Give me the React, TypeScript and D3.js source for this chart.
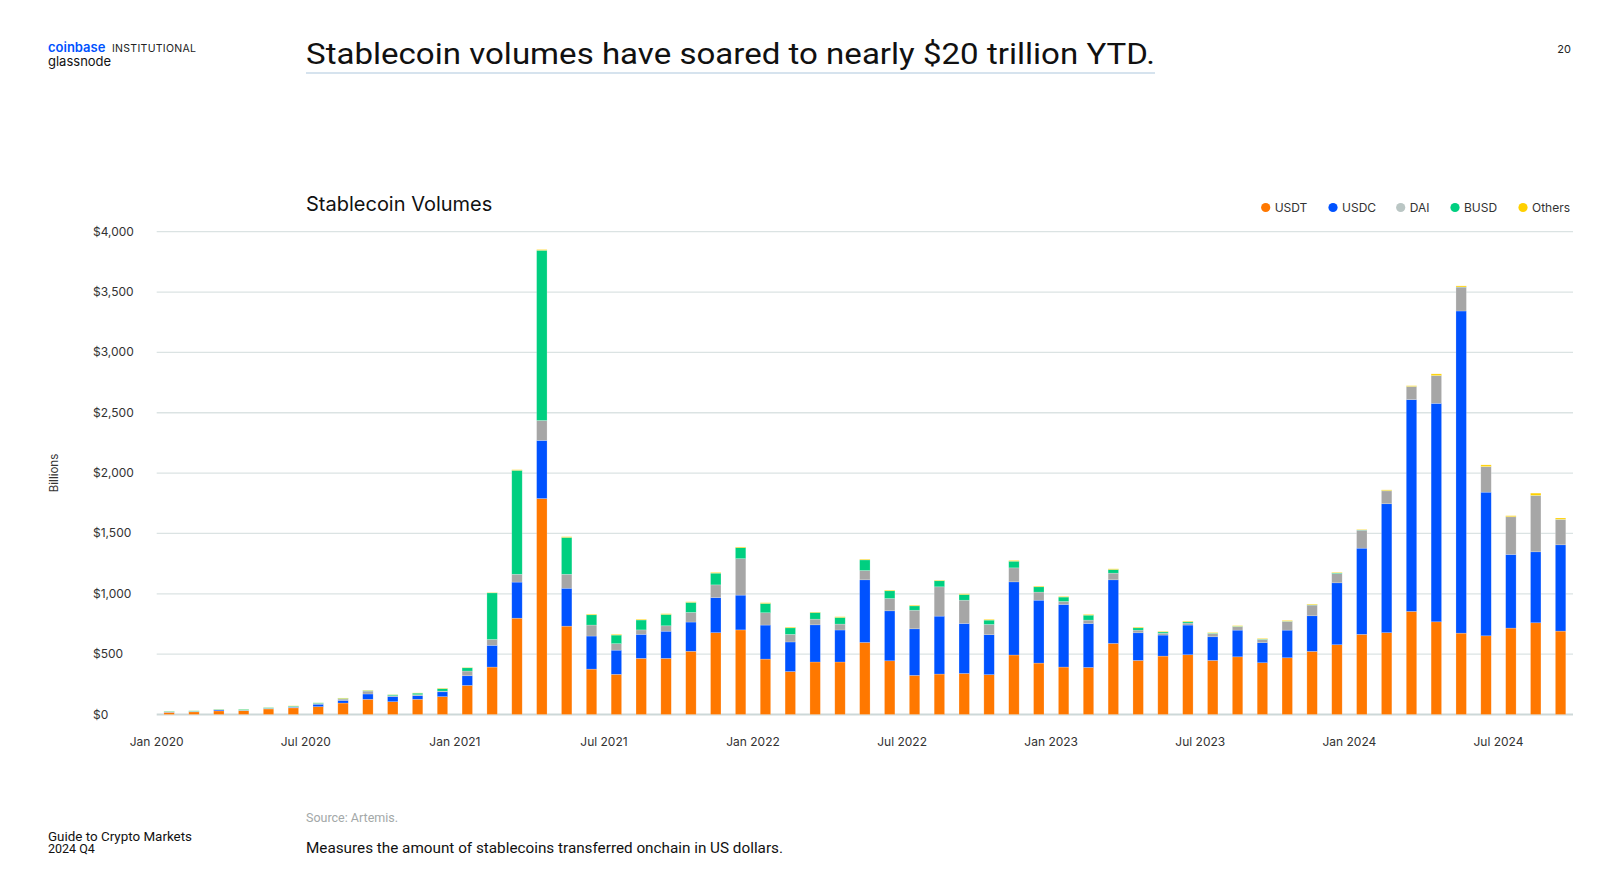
import React from "react";
import * as d3 from "d3";

const MONTHS: Date[] = d3.timeMonth.range(new Date(2020, 0, 1), new Date(2024, 9, 1));
const X_TICKS = ["Jan 2020", "Jul 2020", "Jan 2021", "Jul 2021", "Jan 2022", "Jul 2022", "Jan 2023", "Jul 2023", "Jan 2024", "Jul 2024"];
const Y_TICKS = [0, 500, 1000, 1500, 2000, 2500, 3000, 3500, 4000];

const USDT = [18,22,30,32,46,55,65,95,126,106,126,148,241,393,798,1789,732,376,333,465,465,524,678,701,459,356,435,435,597,445,324,335,340,330,493,426,393,390,589,448,484,495,448,478,429,470,523,578,664,678,854,768,674,652,716,760,691];
const USDC = [2,2,8,2,3,5,20,22,44,42,30,40,80,180,299,482,314,274,200,199,225,242,291,288,282,245,308,265,519,414,386,480,414,331,606,521,519,364,527,229,174,246,196,221,166,229,295,513,714,1068,1755,1810,2669,1190,610,588,715];
const DAI = [2,3,3,2,3,5,7,11,24,8,8,6,39,49,65,165,116,91,54,37,45,80,105,302,102,63,47,49,77,102,154,243,193,85,116,67,25,28,55,22,15,16,25,28,27,72,88,77,149,107,108,229,198,211,312,466,210];
const BUSD = [5,4,3,7,5,5,5,5,4,8,13,20,27,386,861,1410,305,85,71,82,94,83,97,91,77,54,55,55,88,64,36,50,47,36,55,44,36,41,30,19,11,11,5,4,3,2,3,5,2,2,1,1,1,1,1,1,1];
const OTHERS = [1,1,1,1,1,2,1,4,3,2,2,4,3,3,5,6,6,6,6,6,6,5,6,6,6,6,4,6,6,6,6,5,6,6,6,6,5,6,6,6,5,6,5,5,5,6,6,5,4,6,6,14,9,14,8,19,11];

const SERIES = ["USDT", "USDC", "DAI", "BUSD", "Others"];
const COLORS = ["#FF7800", "#0052FF", "#A6A6A6", "#00CF80", "#FFD000"];
const LEGEND_COLORS = ["#FF7800", "#0052FF", "#BAC6C4", "#00CF80", "#FFD000"];

const W = 1600;
const H = 881;
const LEFT = 156.7;
const RIGHT = 1573;
const Y0 = 714.5;
const Y1 = 231.7;
const FONT = "Inter, 'Noto Sans', sans-serif";

export default function App() {
  const rows = MONTHS.map((m, i) => ({
    month: m,
    USDT: USDT[i],
    USDC: USDC[i],
    DAI: DAI[i],
    BUSD: BUSD[i],
    Others: OTHERS[i],
  }));
  const stack = d3.stack<any>().keys(SERIES)(rows);
  const x = d3
    .scaleBand<number>()
    .domain(MONTHS.map((_, i) => i))
    .range([LEFT, RIGHT])
    .paddingInner(0.58)
    .paddingOuter(0.29);
  const y = d3.scaleLinear().domain([0, 4000]).range([Y0, Y1]);
  const step = x.step();
  const fmt = (v: number) => "$" + d3.format(",")(v);
  const legendX = [1265.7, 1333, 1400.7, 1455, 1523];

  return (
    <svg width={W} height={H} style={{ position: "absolute", left: 0, top: 0, background: "#fff" }}>
      <rect x={0} y={0} width={W} height={H} fill="#fff" />
      {/* header */}
      <text x={48} y={52} fontFamily={FONT} fontSize={13} fontWeight={600} fill="#0052FF">coinbase</text>
      <text x={112} y={51.5} fontFamily={FONT} fontSize={10.5} fill="#222" letterSpacing={0.3}>INSTITUTIONAL</text>
      <text x={48} y={65.5} fontFamily={FONT} fontSize={13} fill="#111">glassnode</text>
      <text x={306} y={64} fontFamily="Roboto, sans-serif" fontSize={30} fill="#111" textLength={849} lengthAdjust="spacingAndGlyphs">
        Stablecoin volumes have soared to nearly $20 trillion YTD.
      </text>
      <line x1={306} x2={1155} y1={73} y2={73} stroke="#d6e3ee" strokeWidth={2} />
      <text x={1571} y={53} textAnchor="end" fontFamily={FONT} fontSize={11} fill="#222">20</text>

      {/* chart title */}
      <text x={306} y={211} fontFamily={FONT} fontSize={20} fill="#111">Stablecoin Volumes</text>

      {/* legend */}
      {SERIES.map((s, i) => (
        <g key={s}>
          <circle cx={legendX[i]} cy={207.5} r={4.6} fill={LEGEND_COLORS[i]} />
          <text x={legendX[i] + 9} y={211.8} fontFamily={FONT} fontSize={12} fill="#333">{s}</text>
        </g>
      ))}

      {/* gridlines and y labels */}
      {Y_TICKS.map((t) => (
        <g key={t}>
          <line x1={LEFT} x2={RIGHT} y1={y(t)} y2={y(t)} stroke={t === 0 ? "#cdd8d8" : "#dbe3e3"} strokeWidth={t === 0 ? 2 : 1.3} />
          <text x={93} y={y(t) + 4} fontFamily={FONT} fontSize={12} fill="#333">{fmt(t)}</text>
        </g>
      ))}
      <text transform={`translate(58,${473}) rotate(-90)`} textAnchor="middle" fontFamily={FONT} fontSize={11.5} fill="#333">Billions</text>

      {/* bars */}
      {stack.map((layer, li) => (
        <g key={SERIES[li]} fill={COLORS[li]}>
          {layer.map((d, i) => {
            const h = y(d[0]) - y(d[1]);
            if (h <= 0) return null;
            return (
              <rect
                key={i}
                x={x(i)!}
                y={y(d[1])}
                width={x.bandwidth()}
                height={h}
                stroke="rgba(255,255,255,0.35)"
                strokeWidth={0.6}
              />
            );
          })}
        </g>
      ))}

      {/* x labels */}
      {X_TICKS.map((lab, k) => {
        const i = k * 6;
        const cx = x(i)! + x.bandwidth() / 2 - step / 2;
        return (
          <text key={lab} x={cx} y={746} textAnchor="middle" fontFamily={FONT} fontSize={12} fill="#333">{lab}</text>
        );
      })}

      {/* footer */}
      <text x={306} y={822} fontFamily="Roboto, sans-serif" fontSize={12.5} fill="#a3a8a8">Source: Artemis.</text>
      <text x={306} y={853} fontFamily="Roboto, sans-serif" fontSize={14} fill="#111" textLength={477} lengthAdjust="spacingAndGlyphs">
        Measures the amount of stablecoins transferred onchain in US dollars.
      </text>
      <text x={48} y={841} fontFamily="Roboto, sans-serif" fontSize={12.5} fill="#111" textLength={144} lengthAdjust="spacingAndGlyphs">Guide to Crypto Markets</text>
      <text x={48} y={853} fontFamily="Roboto, sans-serif" fontSize={12.5} fill="#111">2024 Q4</text>
    </svg>
  );
}
